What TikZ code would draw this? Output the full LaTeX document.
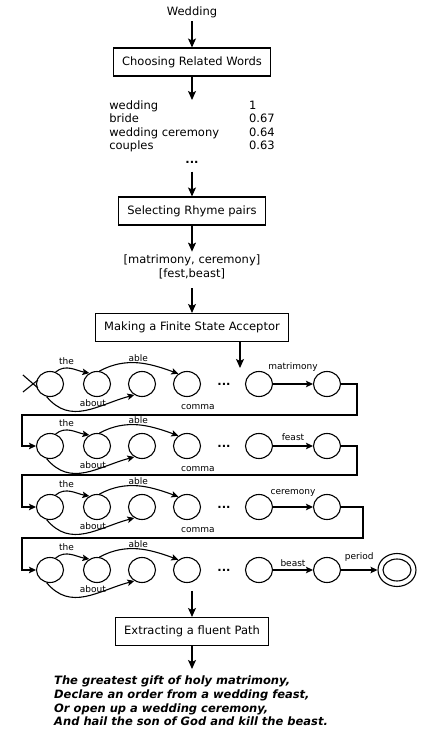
\documentclass[tikz,border=0pt]{standalone}
\usepackage{fontspec}
\setmainfont{DejaVu Sans}
\usetikzlibrary{arrows.meta,shapes.geometric,calc}

\begin{document}
\begin{tikzpicture}[x=1pt,y=1pt,
  font=\fontsize{11.5}{13.4}\selectfont,
  box/.style={draw,line width=1.1pt,minimum height=28pt,inner xsep=9pt},
  arrow/.style={-{Stealth[length=9pt,width=8pt,inset=2pt]},line width=1.2pt},
  edge/.style={-{Stealth[length=7pt,width=6.5pt,inset=1.5pt]},line width=1.1pt},
  state/.style={ellipse,draw,line width=1.1pt,minimum width=27pt,minimum height=25pt,inner sep=0pt},
  lbl/.style={font=\fontsize{9}{10}\selectfont,inner sep=1pt}]
\useasboundingbox (0,0) rectangle (434,734);

% draw the pipeline
\node (wed) at (192,722) {Wedding};
\node[box] (choose) at (192,672) {Choosing Related Words};
\coordinate (wordsin) at (192,634);
\node[anchor=north,inner sep=0pt] (words) at (wordsin) {%
  \begin{tabular}{@{}l@{\hspace{30pt}}l@{}}
  wedding & 1\\
  bride & 0.67\\
  wedding ceremony & 0.64\\
  couples & 0.63
  \end{tabular}};
\node (dots) at (192,572) {\textbf{...}};
\node[box] (select) at (192,523) {Selecting Rhyme pairs};
\node[align=center] (rhyme) at (192,467) {{[matrimony, ceremony]}\\{[fest,beast]}};
\node[box] (make) at (192,406.5) {Making a Finite State Acceptor};
\coordinate (fsain) at (240,366);

\draw[arrow] (wed) -- (choose);
\draw[arrow] (choose) -- (wordsin);
\draw[arrow,shorten <=5pt] (dots) -- (select);
\draw[arrow] (select) -- (rhyme);
\draw[arrow,shorten <=6pt] (rhyme) -- (make);
\draw[arrow] (make.south -| fsain) -- (fsain);

% draw the acceptor, one row per rhyme word
\foreach \r/\y/\w/\dy in {1/350/matrimony/17,2/288/feast/9,3/227/ceremony/14,4/164/beast/7}{
  \foreach \i/\x in {1/50,2/97,3/142,4/187,5/259,6/327}
    \node[state] (s\r\i) at (\x,\y) {};
  \node (dots\r) at (224,\y) {\textbf{...}};
  \draw[edge] (s\r1.65) to[out=40,in=170] node[lbl,pos=0.35,above=2pt] {the} (s\r2.125);
  \draw[edge] (s\r2.80) to[out=28,in=160] node[lbl,midway,above] {able} (s\r4.130);
  \draw[edge] (s\r1.-105) to[out=-50,in=195,looseness=1.1] node[lbl,pos=0.58,above] {about} (s\r3.-125);
  \draw[edge] (s\r5) -- node[lbl,midway,yshift=\dy pt] {\w} (s\r6);
}
\foreach \r/\y in {1/350,2/288,3/227}
  \node[lbl] (comma\r) at (198,{\y-23}) {comma};

% start marker and final state
\draw[line width=1.1pt] ($(s11.west)+(-13,9)$) -- ($(s11.west)+(2,-4)$);
\draw[line width=1.1pt] ($(s11.west)+(-13,-8)$) -- ($(s11.west)+(2,4)$);
\node[state,minimum width=38pt,minimum height=33pt] (final) at (397,164) {};
\node[state,minimum width=28pt,minimum height=22pt] (finalin) at (final) {};
\draw[edge] (s46) -- node[lbl,midway,yshift=13pt] {period} (final);

% link the rows
\draw[edge] (s16.east) -| (357,319) -| (22,288) -- (s21.west);
\draw[edge] (s26.east) -| (357,259) -| (22,227) -- (s31.west);
\draw[edge] (s36.east) -| (363,196) -| (22,164) -- (s41.west);

% extract the path
\coordinate (fsaout) at (192,143);
\node[box] (extract) at (192,102.5) {Extracting a fluent Path};
\coordinate (poemin) at (192,65);
\draw[arrow] (fsaout) -- (extract);
\draw[arrow] (extract) -- (poemin);
\node[anchor=north west,align=left,inner sep=0pt,
  font=\fontsize{11.5}{13.6}\selectfont\bfseries\itshape] (poem) at (54,58)
  {The greatest gift of holy matrimony,\\
   Declare an order from a wedding feast,\\
   Or open up a wedding ceremony,\\
   And hail the son of God and kill the beast.};

\end{tikzpicture}
\end{document}
